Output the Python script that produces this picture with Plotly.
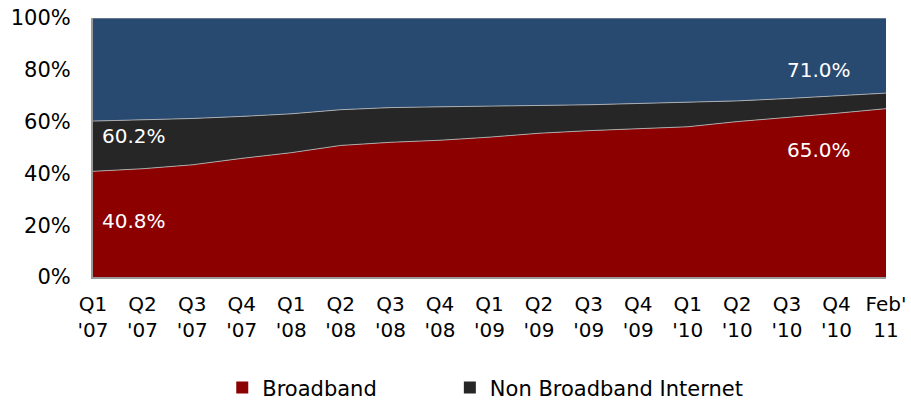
import plotly.graph_objects as go

categories = ["Q1<br>'07", "Q2<br>'07", "Q3<br>'07", "Q4<br>'07",
              "Q1<br>'08", "Q2<br>'08", "Q3<br>'08", "Q4<br>'08",
              "Q1<br>'09", "Q2<br>'09", "Q3<br>'09", "Q4<br>'09",
              "Q1<br>'10", "Q2<br>'10", "Q3<br>'10", "Q4<br>'10",
              "Feb'<br>11"]
broadband = [40.8, 41.8, 43.3, 45.8, 48.0, 50.8, 52.0, 52.8, 54.0, 55.5,
             56.5, 57.2, 58.0, 60.0, 61.5, 63.2, 65.0]
internet_total = [60.2, 60.6, 61.2, 62.0, 63.0, 64.6, 65.4, 65.7, 65.9, 66.2,
                  66.5, 67.0, 67.4, 68.0, 68.9, 69.9, 71.0]
non_broadband = [round(t - b, 1) for t, b in zip(internet_total, broadband)]
no_internet = [round(100 - t, 1) for t in internet_total]

RED = "#8c0000"
BLACK = "#262626"
BLUE = "#284a70"
EDGE = "rgba(190,190,190,0.8)"
FONT = "DejaVu Sans"

x = list(range(len(categories)))

fig = go.Figure()
for name, vals, col in [("Broadband", broadband, RED),
                        ("Non Broadband Internet", non_broadband, BLACK),
                        ("No Internet", no_internet, BLUE)]:
    fig.add_trace(go.Scatter(x=x, y=vals, name=name, stackgroup="one",
                             mode="lines", line=dict(width=1, color=EDGE),
                             fillcolor=col, showlegend=False,
                             hoverinfo="name+y"))

for name, col, leg in [("Broadband", RED, "legend"),
                       ("Non Broadband Internet", BLACK, "legend2")]:
    fig.add_trace(go.Scatter(x=[None], y=[None], mode="markers", name=name,
                             marker=dict(symbol="square", size=13, color=col),
                             showlegend=True, legend=leg))

labels = [
    (0.009, 21.5, "40.8%", "left"),
    (0.009, 54.5, "60.2%", "left"),
    (0.958, 49.0, "65.0%", "right"),
    (0.958, 80.0, "71.0%", "right"),
]
for px, py, txt, anc in labels:
    fig.add_annotation(x=px, xref="paper", y=py, yref="y", text=txt,
                       showarrow=False, xanchor=anc, yanchor="middle",
                       font=dict(family=FONT, size=20, color="white"))

legend_common = dict(orientation="h", xanchor="left", y=-0.349, yanchor="top",
                     font=dict(family=FONT, size=21), itemsizing="constant",
                     bgcolor="rgba(0,0,0,0)")
fig.update_layout(
    width=911, height=404,
    margin=dict(l=93, r=25, t=18, b=127, autoexpand=False),
    paper_bgcolor="white", plot_bgcolor="white",
    font=dict(family=FONT, color="#000000"),
    legend=dict(x=0.163, **legend_common),
    legend2=dict(x=0.450, **legend_common),
)
fig.update_xaxes(range=[0, len(categories) - 1], tickmode="array",
                 tickvals=x, ticktext=categories, showgrid=False,
                 zeroline=False, showline=True, linecolor="#9a9a9a",
                 linewidth=2, tickfont=dict(family=FONT, size=20),
                 ticks="", ticklabelstandoff=8, automargin=False)
fig.update_yaxes(range=[0, 100], tickvals=[0, 20, 40, 60, 80, 100],
                 ticktext=["0%", "20%", "40%", "60%", "80%", "100%"],
                 showgrid=False, zeroline=False, showline=True,
                 linecolor="#9a9a9a", linewidth=2,
                 tickfont=dict(family=FONT, size=21), ticks="",
                 ticklabelstandoff=16, automargin=False)

fig.write_html("out.html", config={"displayModeBar": False},
               post_script="document.body.style.margin='0';"
                           "document.body.style.overflow='hidden';")
